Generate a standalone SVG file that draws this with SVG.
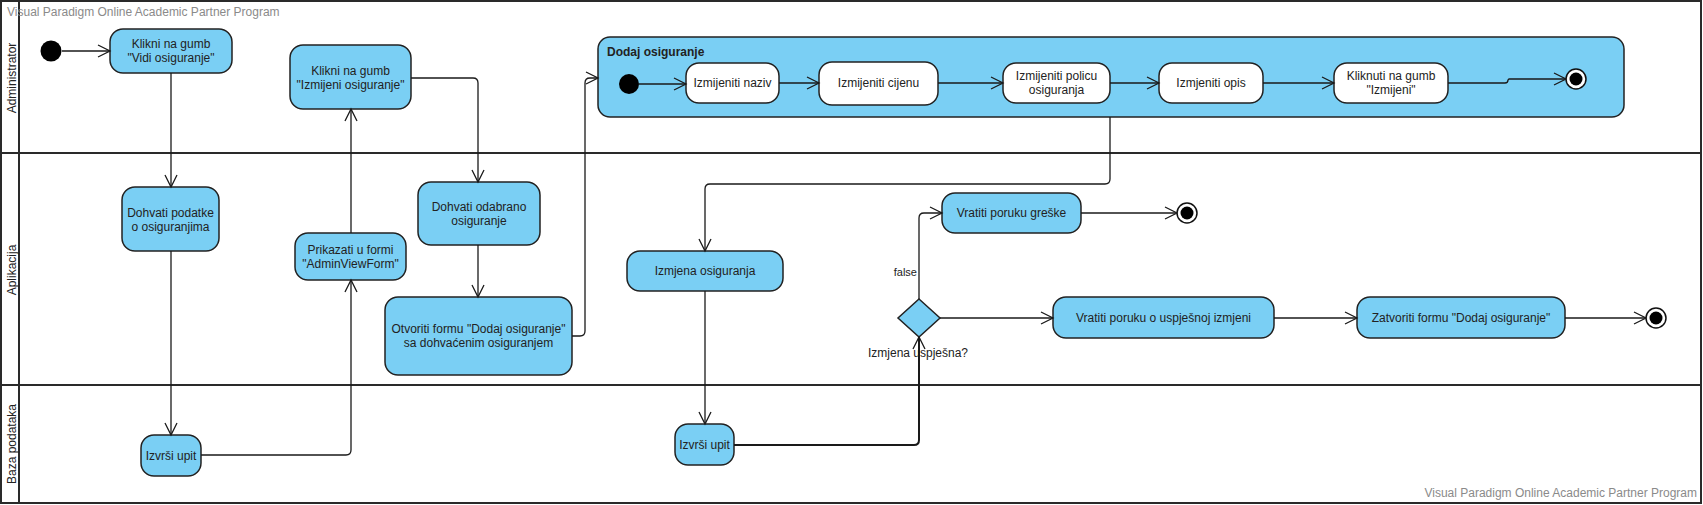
<svg xmlns="http://www.w3.org/2000/svg" width="1703" height="505" viewBox="0 0 1703 505">
<style>
text{font-family:"Liberation Sans",Arial,sans-serif;font-size:12px;fill:#222}
.t{text-anchor:middle;dominant-baseline:central}
.wm{fill:#8a8a8a}
.act{fill:#7acff4;stroke:#222;stroke-width:1.5}
.inner{fill:#fff;stroke:#222;stroke-width:1.5}
.lane{fill:none;stroke:#2a2a2a;stroke-width:2}
.c{fill:none;stroke:#1a1a1a;stroke-width:1.3;marker-end:url(#arr)}
</style>
<defs>
<marker id="arr" markerUnits="userSpaceOnUse" markerWidth="16" markerHeight="16" refX="13" refY="7" orient="auto">
<path d="M1,1 L13,7 L1,13" fill="none" stroke="#1a1a1a" stroke-width="1.3"/>
</marker>
</defs>
<rect x="0" y="0" width="1703" height="505" fill="#fff"/>
<g id="lanes">
<rect class="lane" x="1" y="1" width="1700" height="502"/>
<line class="lane" x1="19" y1="1" x2="19" y2="503"/>
<line class="lane" x1="1" y1="153" x2="1701" y2="153"/>
<line class="lane" x1="1" y1="385" x2="1701" y2="385"/>
<text transform="translate(16,78) rotate(-90)" text-anchor="middle">Administrator</text>
<text transform="translate(16,270) rotate(-90)" text-anchor="middle">Aplikacija</text>
<text transform="translate(16,444) rotate(-90)" text-anchor="middle">Baza podataka</text>
<text class="wm" x="7" y="16">Visual Paradigm Online Academic Partner Program</text>
<text class="wm" x="1697" y="497" text-anchor="end">Visual Paradigm Online Academic Partner Program</text>
</g>
<g id="start1"><circle cx="51" cy="51" r="10.5" fill="#000"/></g>
<g id="n_klikni_vidi"><rect class="act" x="110" y="29" width="122" height="44" rx="13"/>
<text class="t" x="171" y="44">Klikni na gumb</text><text class="t" x="171" y="58">"Vidi osiguranje"</text></g>
<g id="n_klikni_izmijeni"><rect class="act" x="290" y="45" width="121" height="64" rx="13"/>
<text class="t" x="350.5" y="71">Klikni na gumb</text><text class="t" x="350.5" y="85">"Izmijeni osiguranje"</text></g>
<g id="n_dohvati_podatke"><rect class="act" x="122" y="187" width="97" height="64" rx="13"/>
<text class="t" x="170.5" y="213">Dohvati podatke</text><text class="t" x="170.5" y="227">o osiguranjima</text></g>
<g id="n_prikazati"><rect class="act" x="295" y="233" width="111" height="47" rx="13"/>
<text class="t" x="350.5" y="249.5">Prikazati u formi</text><text class="t" x="350.5" y="263.5">"AdminViewForm"</text></g>
<g id="n_dohvati_odabrano"><rect class="act" x="418" y="182" width="122" height="63" rx="13"/>
<text class="t" x="479" y="207">Dohvati odabrano</text><text class="t" x="479" y="221">osiguranje</text></g>
<g id="n_otvoriti"><rect class="act" x="385" y="297" width="187" height="78" rx="13"/>
<text class="t" x="478.5" y="329">Otvoriti formu "Dodaj osiguranje"</text><text class="t" x="478.5" y="343">sa dohvaćenim osiguranjem</text></g>
<g id="n_izvrsi1"><rect class="act" x="141" y="435" width="60" height="41" rx="13"/>
<text class="t" x="171" y="455.5">Izvrši upit</text></g>
<g id="container_dodaj">
<rect class="act" x="598" y="37" width="1026" height="80" rx="12"/>
<text x="607" y="56" style="font-weight:bold">Dodaj osiguranje</text>
</g>
<g id="start2"><circle cx="629" cy="84" r="10" fill="#000"/></g>
<g id="n_naziv"><rect class="inner" x="686" y="63" width="93" height="40" rx="13"/><text class="t" x="732.5" y="83">Izmijeniti naziv</text></g>
<g id="n_cijenu"><rect class="inner" x="819" y="62" width="119" height="43" rx="13"/><text class="t" x="878.5" y="83">Izmijeniti cijenu</text></g>
<g id="n_policu"><rect class="inner" x="1003" y="63" width="107" height="40" rx="13"/><text class="t" x="1056.5" y="76">Izmijeniti policu</text><text class="t" x="1056.5" y="90">osiguranja</text></g>
<g id="n_opis"><rect class="inner" x="1159" y="63" width="104" height="40" rx="13"/><text class="t" x="1211" y="83">Izmjeniti opis</text></g>
<g id="n_kliknuti"><rect class="inner" x="1334" y="63" width="114" height="40" rx="13"/><text class="t" x="1391" y="76">Kliknuti na gumb</text><text class="t" x="1391" y="90">"Izmijeni"</text></g>
<g id="end_inner"><circle cx="1576" cy="79" r="10" fill="#fff" stroke="#111" stroke-width="1.5"/><circle cx="1576" cy="79" r="6.5" fill="#000"/></g>
<g id="n_izmjena"><rect class="act" x="627" y="251" width="156" height="40" rx="13"/><text class="t" x="705" y="271">Izmjena osiguranja</text></g>
<g id="n_izvrsi2"><rect class="act" x="675" y="424" width="59" height="41" rx="13"/><text class="t" x="704.5" y="444.5">Izvrši upit</text></g>
<g id="decision"><path class="act" d="M919,299 L940,318 L919,337 L898,318 Z"/>
<text x="918" y="357" text-anchor="middle">Izmjena uspješna?</text></g>
<g id="n_greske"><rect class="act" x="942" y="193" width="139" height="40" rx="13"/><text class="t" x="1011.5" y="213">Vratiti poruku greške</text></g>
<g id="end1"><circle cx="1187" cy="213" r="10" fill="#fff" stroke="#111" stroke-width="1.5"/><circle cx="1187" cy="213" r="6.5" fill="#000"/></g>
<g id="n_uspjesnoj"><rect class="act" x="1053" y="297" width="221" height="41" rx="13"/><text class="t" x="1163.5" y="317.5">Vratiti poruku o uspješnoj izmjeni</text></g>
<g id="n_zatvoriti"><rect class="act" x="1357" y="297" width="208" height="41" rx="13"/><text class="t" x="1461" y="317.5">Zatvoriti formu "Dodaj osiguranje"</text></g>
<g id="end2"><circle cx="1656" cy="318" r="10" fill="#fff" stroke="#111" stroke-width="1.5"/><circle cx="1656" cy="318" r="6.5" fill="#000"/></g>
<g id="connectors">
<path class="c" d="M62,51 L110,51"/>
<path class="c" d="M171,73 L171,187"/>
<path class="c" d="M171,251 L171,435"/>
<path class="c" d="M201,455 L346,455 Q351,455 351,450 L351,280"/>
<path class="c" d="M351,233 L351,109"/>
<path class="c" d="M411,78 L473,78 Q478,78 478,83 L478,182"/>
<path class="c" d="M478,245 L478,297"/>
<path class="c" d="M572,336 L580,336 Q585,336 585,331 L585,83 Q585,78 590,78 L598,78"/>
<path class="c" d="M639,84 L686,84"/>
<path class="c" d="M779,83 L819,83"/>
<path class="c" d="M938,83 L1003,83"/>
<path class="c" d="M1110,83 L1159,83"/>
<path class="c" d="M1263,83 L1334,83"/>
<path class="c" d="M1448,83 L1505,83 Q1508,83 1508,80 L1509,79 L1566,79"/>
<path class="c" d="M1110,117 L1110,179 Q1110,184 1105,184 L710,184 Q705,184 705,189 L705,251"/>
<path class="c" d="M705,291 L705,424"/>
<path class="c" style="stroke-width:2" d="M734,445 L914,445 Q919,445 919,440 L919,337"/>
<path class="c" d="M919,299 L919,218 Q919,213 924,213 L942,213"/>
<text x="917" y="276" text-anchor="end" style="font-size:11px">false</text>
<path class="c" d="M940,318 L1053,318"/>
<path class="c" d="M1081,213 L1177,213"/>
<path class="c" d="M1274,318 L1357,318"/>
<path class="c" d="M1565,318 L1646,318"/>
</g>
</svg>
